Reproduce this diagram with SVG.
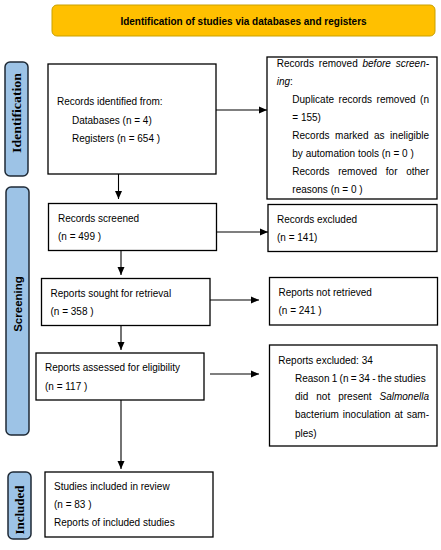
<svg xmlns="http://www.w3.org/2000/svg" width="441" height="550" viewBox="0 0 441 550">
<style>
  .box{fill:#fff;stroke:#000;stroke-width:1.3}
  .lab{fill:#9dc3e6;stroke:#1f2a36;stroke-width:1.5}
  .t{font-family:"Liberation Sans",Arial,sans-serif;font-size:10px;fill:#000}
  .i{font-style:italic}
  .sl{font-family:"Liberation Serif","Times New Roman",serif;font-weight:bold;font-size:13px;fill:#000}
  .ss{font-family:"Liberation Sans",Arial,sans-serif;font-weight:bold;font-size:11.5px;fill:#000}
  .c{fill:none;stroke:#000;stroke-width:1.1}
</style>
<defs>
  <marker id="ah" markerUnits="userSpaceOnUse" markerWidth="9" markerHeight="8" refX="8" refY="4" orient="auto">
    <path d="M0,0.5 L8,4 L0,7.5 Z" fill="#000"/>
  </marker>
</defs>
<rect width="441" height="550" fill="#fff"/>

<g id="header">
  <rect x="52" y="5" width="383" height="31" rx="5" fill="#ffc000" stroke="#c9a100" stroke-width="1"/>
  <text x="243.5" y="24.5" text-anchor="middle" style="font-family:'Liberation Sans',Arial,sans-serif;font-weight:bold;font-size:10px">Identification of studies via databases and registers</text>
</g>

<g id="label-identification">
  <rect class="lab" x="5" y="62" width="23" height="114" rx="5"/>
  <text class="sl" transform="translate(21,113) rotate(-90)" text-anchor="middle" textLength="80" lengthAdjust="spacingAndGlyphs">Identification</text>
</g>
<g id="label-screening">
  <rect class="lab" x="6" y="187" width="23" height="248" rx="5"/>
  <text class="ss" transform="translate(21.5,304) rotate(-90)" text-anchor="middle">Screening</text>
</g>
<g id="label-included">
  <rect class="lab" x="8" y="472" width="23" height="67" rx="5"/>
  <text class="sl" transform="translate(24,510) rotate(-90)" text-anchor="middle">Included</text>
</g>

<g id="n-identified">
  <rect class="box" x="48" y="64" width="168" height="110"/>
  <text class="t" x="57" y="105">Records identified from:</text>
  <text class="t" x="72" y="123.5">Databases (n = 4)</text>
  <text class="t" x="72" y="142">Registers (n = 654 )</text>
</g>

<g id="n-removed">
  <rect class="box" x="267" y="57" width="170" height="142"/>
  <text class="t" y="66.5"><tspan x="276.7">Records</tspan><tspan x="318.8">removed</tspan><tspan x="362.5" class="i">before</tspan><tspan x="395.7" class="i">screen-</tspan></text>
  <text class="t" x="276.7" y="84.6"><tspan class="i">ing</tspan>:</text>
  <text class="t" y="102.7"><tspan x="292.3">Duplicate</tspan><tspan x="338.6">records</tspan><tspan x="376.6">removed</tspan><tspan x="420.1">(n</tspan></text>
  <text class="t" x="292.3" y="120.8">= 155)</text>
  <text class="t" y="138.9"><tspan x="292.3">Records</tspan><tspan x="335.1">marked</tspan><tspan x="374">as</tspan><tspan x="390.1">ineligible</tspan></text>
  <text class="t" x="292.3" y="157">by automation tools (n = 0 )</text>
  <text class="t" y="175.1"><tspan x="292.3">Records</tspan><tspan x="338.2">removed</tspan><tspan x="385.8">for</tspan><tspan x="406.2">other</tspan></text>
  <text class="t" x="292.3" y="193.2">reasons (n = 0 )</text>
</g>

<g id="n-screened">
  <rect class="box" x="48.5" y="203.5" width="168" height="47"/>
  <text class="t" x="58" y="222">Records screened</text>
  <text class="t" x="58" y="240">(n = 499 )</text>
</g>

<g id="n-excluded">
  <rect class="box" x="268" y="204.5" width="169" height="47"/>
  <text class="t" x="277" y="223">Records excluded</text>
  <text class="t" x="277" y="241">(n = 141)</text>
</g>

<g id="n-sought">
  <rect class="box" x="41.5" y="278.5" width="168.5" height="47"/>
  <text class="t" x="50.5" y="297">Reports sought for retrieval</text>
  <text class="t" x="50.5" y="315">(n = 358 )</text>
</g>

<g id="n-notretrieved">
  <rect class="box" x="269.5" y="277.5" width="168" height="47.5"/>
  <text class="t" x="278.5" y="295.5">Reports not retrieved</text>
  <text class="t" x="278.5" y="313.5">(n = 241 )</text>
</g>

<g id="n-assessed">
  <rect class="box" x="36" y="353" width="168" height="47"/>
  <text class="t" x="45" y="371">Reports assessed for eligibility</text>
  <text class="t" x="45" y="390">(n = 117 )</text>
</g>

<g id="n-reportsexcluded">
  <rect class="box" x="269.5" y="345" width="167.5" height="101"/>
  <text class="t" x="278.3" y="364">Reports excluded: 34</text>
  <text class="t" y="382"><tspan x="295">Reason</tspan><tspan x="331.7">1</tspan><tspan x="339.6">(n</tspan><tspan x="350.7">=</tspan><tspan x="358.8">34</tspan><tspan x="372.2">-</tspan><tspan x="377.8">the</tspan><tspan x="394">studies</tspan></text>
  <text class="t" y="400"><tspan x="295">did</tspan><tspan x="316.3">not</tspan><tspan x="338.2">present</tspan><tspan x="379.5" class="i">Salmonella</tspan></text>
  <text class="t" y="418"><tspan x="295">bacterium</tspan><tspan x="342.8">inoculation</tspan><tspan x="394.5">at</tspan><tspan x="406.8">sam-</tspan></text>
  <text class="t" x="295" y="437">ples)</text>
</g>

<g id="n-included">
  <rect class="box" x="45" y="472" width="168" height="65"/>
  <text class="t" x="54" y="490">Studies included in review</text>
  <text class="t" x="54" y="508">(n = 83 )</text>
  <text class="t" x="54" y="526">Reports of included studies</text>
</g>

<g id="connectors">
  <line class="c" x1="216" y1="110" x2="267" y2="110" marker-end="url(#ah)"/>
  <line class="c" x1="118.5" y1="174" x2="118.5" y2="199" marker-end="url(#ah)"/>
  <line class="c" x1="216.5" y1="232" x2="268" y2="232" marker-end="url(#ah)"/>
  <line class="c" x1="121" y1="250.5" x2="121" y2="275" marker-end="url(#ah)"/>
  <line class="c" x1="210" y1="300" x2="259" y2="300" marker-end="url(#ah)"/>
  <line class="c" x1="121" y1="325.5" x2="121" y2="350" marker-end="url(#ah)"/>
  <line class="c" x1="210" y1="374" x2="259" y2="374" marker-end="url(#ah)"/>
  <line class="c" x1="121" y1="400" x2="121" y2="469" marker-end="url(#ah)"/>
</g>
</svg>
